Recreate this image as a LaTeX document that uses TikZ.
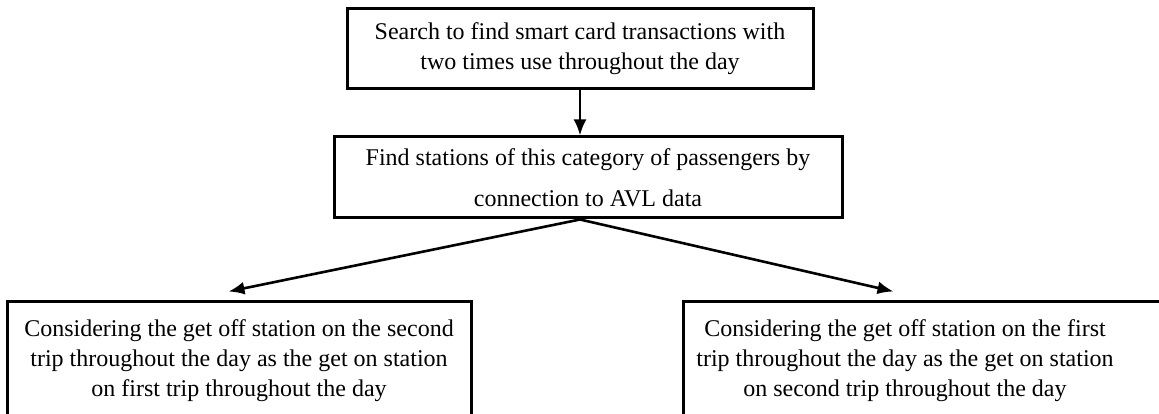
\documentclass[tikz,border=0pt]{standalone}
\usepackage{fontspec}
\setmainfont{Liberation Serif}
\usetikzlibrary{arrows.meta,calc}
\begin{document}
\begin{tikzpicture}[x=1pt,y=1pt,
  box/.style={draw=black,line width=3pt,rectangle,inner sep=0pt,align=center,
    font=\fontsize{24}{30}\selectfont},
  txt/.style={inner sep=0pt,align=center,font=\fontsize{24}{30}\selectfont},
  arr/.style={line width=2.6pt,-{Latex[length=16pt,width=13pt]}}]
\useasboundingbox (0,0) rectangle (1159,-414);
\node[box,minimum width=466pt,minimum height=80pt] (top) at (580,-49)
  {Search to find smart card transactions with\\two times use throughout the day};
\node[box,minimum width=508pt,minimum height=81pt] (mid) at (588,-177.5)
  {Find stations of this category of passengers by\\[11pt]connection to AVL data};
\node[box,minimum width=464pt,minimum height=119pt] (bl) at (239,-360.5)
  {Considering the get off station on the second\\trip throughout the day as the get on station\\on first trip throughout the day};
\node[box,minimum width=482pt,minimum height=119pt] (br) at (924,-360.5) {};
\node[txt] (brt) at (905,-360.5)
  {Considering the get off station on the first\\trip throughout the day as the get on station\\on second trip throughout the day};
\coordinate (split) at (mid.south -| top.south);
\coordinate (blin) at ($(bl.north west)+(223,8)$);
\coordinate (brin) at ($(br.north west)+(212,8)$);
\draw[arr] (top.south) -- (mid.north -| top.south);
\draw[arr] (split) -- (blin);
\draw[arr] (split) -- (brin);
\end{tikzpicture}
\end{document}
